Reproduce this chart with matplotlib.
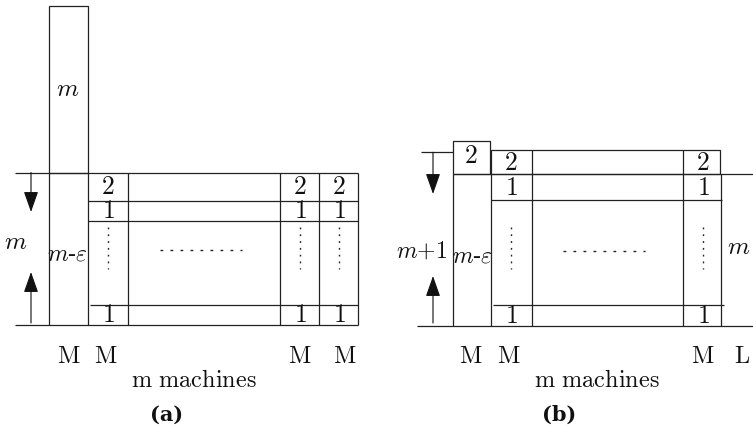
import matplotlib
matplotlib.use("Agg")
import matplotlib.pyplot as plt
from matplotlib.patches import Rectangle

plt.rcParams['mathtext.fontset'] = 'cm'
plt.rcParams['font.family'] = ['Liberation Serif', 'DejaVu Serif']

# labels
machine_labels_a = ["M", "M", "M", "M"]
machine_labels_b = ["M", "M", "M", "L"]
top_row_a = ["2", "2", "2"]
second_row_a = ["1", "1", "1"]
bottom_row_a = ["1", "1", "1"]
top_row_b = ["2", "2"]
second_row_b = ["1", "1"]
bottom_row_b = ["1", "1"]
panel_titles = ["(a)", "(b)"]
group_label = "m machines"

LC = "#222222"
LW = 0.9

fig = plt.figure(figsize=(7.53, 4.31), dpi=100)
ax = fig.add_axes([0, 0, 1, 1])
ax.set_xlim(0, 753)
ax.set_ylim(431, 0)
ax.axis('off')


def hl(y, x0, x1):
    ax.plot([x0, x1], [y, y], color=LC, lw=LW, solid_capstyle='butt')


def vl(x, y0, y1):
    ax.plot([x, x], [y0, y1], color=LC, lw=LW, solid_capstyle='butt')


def box(x0, y0, x1, y1):
    ax.add_patch(Rectangle((x0, y0), x1 - x0, y1 - y0, fill=False, ec=LC, lw=LW))


def txt(x, y, s, size=17, **kw):
    ax.text(x, y, s, ha='center', va='center', fontsize=size, color='#111111', **kw)


def arrow(x, y_from, y_to):
    ax.annotate("", xy=(x, y_to), xytext=(x, y_from),
                arrowprops=dict(arrowstyle='-|>,head_length=0.85,head_width=0.3',
                                mutation_scale=15, color='#111111', lw=0.8,
                                shrinkA=0, shrinkB=0))


def vdots(x, y0, y1):
    ax.plot([x, x], [y0, y1], color=LC, lw=1.0, linestyle=(0, (1.3, 3.6)))


def hdots(y, x0, x1):
    ax.plot([x0, x1], [y, y], color=LC, lw=1.0, linestyle=(0, (2.0, 5.2)))


# ---------------- panel (a) ----------------
top, bot = 173.5, 326
hl(top, 15, 358)
hl(bot, 15, 358)
box(49, 7, 88, top)
for x in [49, 88, 128, 280, 319, 358]:
    vl(x, top, bot)
hl(201.7, 88, 358)
hl(221.7, 88, 358)
hl(305.7, 90, 358)

txt(68, 90, r'$m$', 18)
txt(16, 243, r'$m$', 18)
txt(67, 255, r'$m$-$\varepsilon$', 17)
arrow(31, top, 213)
arrow(31, 324, 273)

cols_a = [108, 300, 339]
for x, a, b, c in zip(cols_a, top_row_a, second_row_a, bottom_row_a):
    txt(x, 188, r'$\mathrm{%s}$' % a, 18.5)
    txt(x, 212, r'$\mathrm{%s}$' % b, 18.5)
    txt(x, 316, r'$\mathrm{%s}$' % c, 18.5)
    vdots(x, 228, 270)
hdots(251, 160, 242)

for x, s in zip([69, 106, 300, 345], machine_labels_a):
    txt(x, 358, r'$\mathrm{%s}$' % s, 17.5)
txt(194, 381, r'$\mathrm{m\ machines}$', 17.5)
txt(167, 415, panel_titles[0], 15, fontweight='bold', family='DejaVu Serif')

# ---------------- panel (b) ----------------
topb, botb = 175, 326.7
hl(153.3, 421, 453)
box(453, 141.7, 490, topb)
box(491, 150.7, 720, topb)
hl(topb, 453, 753)
hl(botb, 417, 753)
for x in [453, 491]:
    vl(x, topb, botb)
for x in [531.7, 683.3]:
    vl(x, 150.7, botb)
vl(721, topb, botb)
hl(201, 491, 722)
hl(305.7, 493, 724)

txt(471, 157, r'$\mathrm{2}$', 18.5)
txt(422, 252, r'$m{+}1$', 17)
txt(472, 257, r'$m$-$\varepsilon$', 17)
txt(739, 248, r'$m$', 18)
arrow(433, 153.3, 195)
arrow(433, 324, 277)

cols_b = [511, 703]
for x, a, b, c in zip(cols_b, top_row_b, second_row_b, bottom_row_b):
    txt(x, 164, r'$\mathrm{%s}$' % a, 18.5)
    txt(x, 189, r'$\mathrm{%s}$' % b, 18.5)
    txt(x, 317, r'$\mathrm{%s}$' % c, 18.5)
    vdots(x, 228, 270)
hdots(252, 563, 645)

for x, s in zip([471, 509, 703, 742], machine_labels_b):
    txt(x, 358, r'$\mathrm{%s}$' % s, 17.5)
txt(597, 381, r'$\mathrm{m\ machines}$', 17.5)
txt(559, 415, panel_titles[1], 15, fontweight='bold', family='DejaVu Serif')

fig.savefig("out.png", dpi=100, facecolor='white')
